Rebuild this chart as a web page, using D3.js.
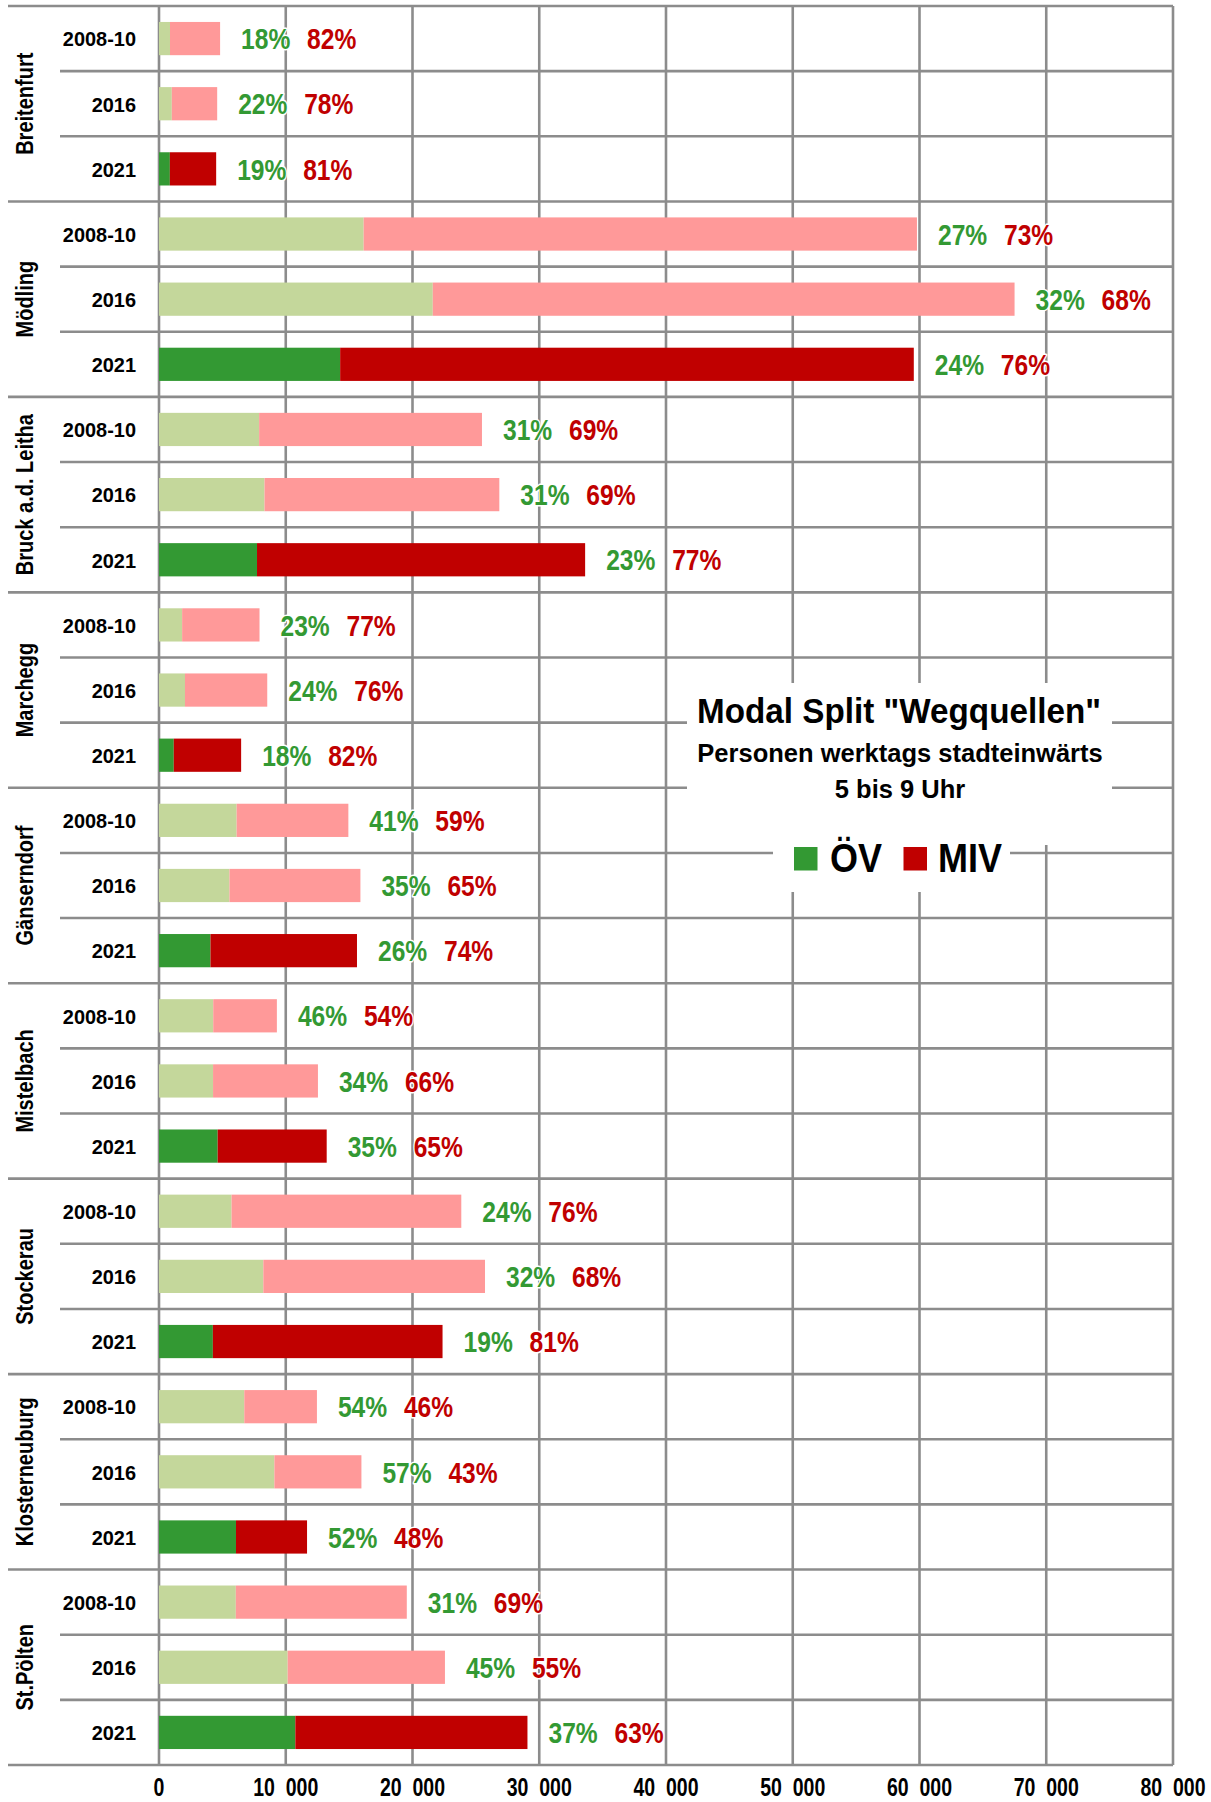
<!DOCTYPE html>
<html lang="de">
<head>
<meta charset="utf-8">
<title>Modal Split "Wegquellen"</title>
<script src="https://cdn.jsdelivr.net/npm/d3@7/dist/d3.min.js"></script>
<style>
  html, body { margin: 0; padding: 0; background: #ffffff; }
  svg { display: block; }
  text { font-family: "Liberation Sans", Arial, Helvetica, sans-serif; font-weight: bold; }
</style>
</head>
<body>
<svg id="chart" width="1211" height="1802"></svg>
<script>
// Source areas (Wegquellen) and survey periods
const places = ["Breitenfurt", "Mödling", "Bruck a.d. Leitha", "Marchegg", "Gänserndorf",
                "Mistelbach", "Stockerau", "Klosterneuburg", "St.Pölten"];
const periods = ["2008-10", "2016", "2021"];

// Persons per weekday, inbound 5–9 h (all modes), one row per place: 2008-10, 2016, 2021
const totals = [
  [4820, 4590, 4510],
  [59800, 67500, 59550],
  [25480, 26850, 33620],
  [7930, 8540, 6480],
  [14940, 15890, 15620],
  [9300, 12540, 13230],
  [23850, 25720, 22370],
  [12460, 15970, 11680],
  [19550, 22560, 29070]
];

// Share of public transport (ÖV) in percent
const ovShare = [
  [18, 22, 19],
  [27, 32, 24],
  [31, 31, 23],
  [23, 24, 18],
  [41, 35, 26],
  [46, 34, 35],
  [24, 32, 19],
  [54, 57, 52],
  [31, 45, 37]
];

// Share of motorised private transport (MIV) in percent
const mivShare = [
  [82, 78, 81],
  [73, 68, 76],
  [69, 69, 77],
  [77, 76, 82],
  [59, 65, 74],
  [54, 66, 65],
  [76, 68, 81],
  [46, 43, 48],
  [69, 55, 63]
];

const xTicks = [0, 10000, 20000, 30000, 40000, 50000, 60000, 70000, 80000];
const legendItems = ["ÖV", "MIV"];
const titleLines = ['Modal Split "Wegquellen"', "Personen werktags stadteinwärts", "5 bis 9 Uhr"];

// Colours: the latest period is saturated, earlier periods are light
const colors = {
  ovDark: "#339933", mivDark: "#c00000",
  ovLight: "#c4d79b", mivLight: "#ff9999",
  grid: "#8c8c8c"
};

const svg = d3.select("#chart");
const plotLeft = 159, plotRight = 1173, plotTop = 6, plotBottom = 1765;

const x = d3.scaleLinear().domain([0, 80000]).range([plotLeft, plotRight]);

const rows = [];
places.forEach((p, i) => periods.forEach((per, j) => {
  const total = totals[i][j];
  const ov = total * ovShare[i][j] / 100;
  rows.push({ key: p + "|" + per, place: p, period: per, gi: i, pj: j,
              total, ov, ovPct: ovShare[i][j], mivPct: mivShare[i][j] });
}));

const y = d3.scaleBand().domain(rows.map(d => d.key)).range([plotTop, plotBottom]);
const rowH = y.bandwidth();
const barH = rowH * 0.51;
const groupH = rowH * periods.length;

// Text helper: horizontally condensed bold text
function label(parent, opts) {
  const g = parent.append("g").attr("transform", `translate(${opts.x},${opts.y})${opts.rotate ? ` rotate(${opts.rotate})` : ""}`);
  const t = g.append("text")
    .attr("transform", `scale(${opts.sx || 1},1)`)
    .attr("text-anchor", opts.anchor || "start")
    .attr("font-size", opts.size)
    .attr("fill", opts.fill || "#000")
    .text(opts.text);
  if (opts.halo) {
    t.attr("stroke", "#fff").attr("stroke-width", opts.halo)
     .attr("stroke-linejoin", "round").attr("paint-order", "stroke");
  }
  return t;
}

// Grid
const grid = svg.append("g").attr("stroke", colors.grid).attr("stroke-width", 2.6).attr("fill", "none");

grid.selectAll("line.v").data(xTicks).join("line")
  .attr("class", "v")
  .attr("x1", d => x(d)).attr("x2", d => x(d))
  .attr("y1", plotTop).attr("y2", plotBottom);

// row separators inside each group
const rowSeps = rows.filter(d => d.pj > 0);
grid.selectAll("line.r").data(rowSeps).join("line")
  .attr("class", "r")
  .attr("x1", 60).attr("x2", plotRight)
  .attr("y1", d => y(d.key)).attr("y2", d => y(d.key));

// group separators, top and bottom border
const groupEdges = d3.range(places.length + 1).map(i => plotTop + i * groupH);
grid.selectAll("line.g").data(groupEdges).join("line")
  .attr("class", "g")
  .attr("x1", 8).attr("x2", plotRight)
  .attr("y1", d => d).attr("y2", d => d);

// Bars
const bars = svg.append("g");
bars.selectAll("rect.ov").data(rows).join("rect")
  .attr("class", "ov")
  .attr("x", x(0))
  .attr("y", d => y(d.key) + (rowH - barH) / 2)
  .attr("width", d => x(d.ov) - x(0))
  .attr("height", barH)
  .attr("fill", d => d.pj === 2 ? colors.ovDark : colors.ovLight);

bars.selectAll("rect.miv").data(rows).join("rect")
  .attr("class", "miv")
  .attr("x", d => x(d.ov))
  .attr("y", d => y(d.key) + (rowH - barH) / 2)
  .attr("width", d => x(d.total) - x(d.ov))
  .attr("height", barH)
  .attr("fill", d => d.pj === 2 ? colors.mivDark : colors.mivLight);

// Percentage labels right of each bar
const pctFmt = v => v + "%";
rows.forEach(d => {
  const cy = y(d.key) + rowH / 2;
  const x0 = x(d.total) + 21;
  label(svg, { x: x0, y: cy + 10.7, text: pctFmt(d.ovPct), size: 30, sx: 0.82, fill: colors.ovDark, halo: 3 });
  label(svg, { x: x0 + 66, y: cy + 10.7, text: pctFmt(d.mivPct), size: 30, sx: 0.82, fill: colors.mivDark, halo: 3 });
});

// Period labels
rows.forEach(d => {
  const cy = y(d.key) + rowH / 2;
  label(svg, { x: 136, y: cy + 7.8, text: d.period, size: 21, sx: 0.95, anchor: "end" });
});

// Place labels (rotated)
places.forEach((p, i) => {
  const cy = plotTop + i * groupH + groupH / 2;
  label(svg, { x: 33, y: cy, text: p, size: 23, sx: 0.87, anchor: "middle", rotate: -90 });
});

// X tick labels
const fmtLocale = d3.formatLocale({ decimal: ",", thousands: " ", grouping: [3], currency: ["", " €"] });
const tickFmt = fmtLocale.format(",d");
xTicks.forEach(t => {
  label(svg, { x: x(t), y: plotBottom + 31, text: tickFmt(t).replace(" ", "  "), size: 25, sx: 0.78, anchor: "middle" })
    .attr("xml:space", "preserve").style("white-space", "pre");
});

// Title block
const cx = 899;
svg.append("rect").attr("x", 687).attr("y", 683).attr("width", 425).attr("height", 162).attr("fill", "#fff");
svg.append("rect").attr("x", 773).attr("y", 815).attr("width", 237).attr("height", 77).attr("fill", "#fff");

label(svg, { x: cx, y: 723, text: titleLines[0], size: 35, sx: 0.95, anchor: "middle" });
label(svg, { x: cx + 1, y: 762, text: titleLines[1], size: 25.5, sx: 1.0, anchor: "middle" });
label(svg, { x: cx + 1, y: 798, text: titleLines[2], size: 25.5, sx: 1.0, anchor: "middle" });

// Legend
const legendPos = [{ sx: 794, tx: 830 }, { sx: 903.5, tx: 938 }];
const legendColors = [colors.ovDark, colors.mivDark];
legendItems.forEach((name, i) => {
  svg.append("rect")
    .attr("x", legendPos[i].sx).attr("y", 847)
    .attr("width", 23.5).attr("height", 23.5)
    .attr("fill", legendColors[i]);
  label(svg, { x: legendPos[i].tx, y: 871.7, text: name, size: 40, sx: 0.9 });
});
</script>
</body>
</html>
